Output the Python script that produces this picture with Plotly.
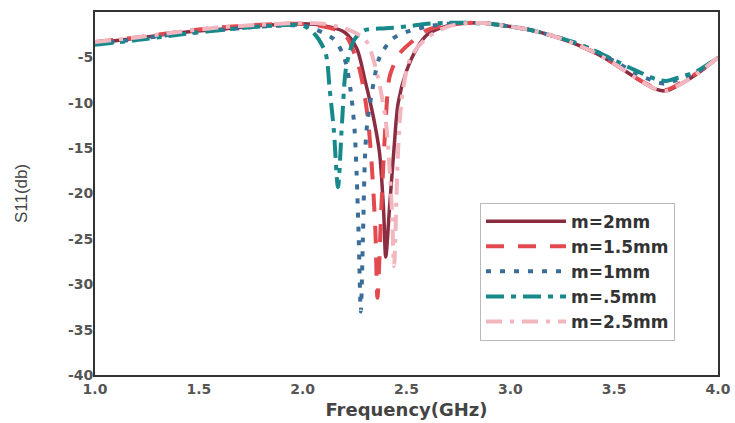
import plotly.graph_objects as go

# ---- data ----
f_2mm = [1.0, 1.2, 1.4, 1.6, 1.8, 2.0, 2.1, 2.2, 2.26, 2.3, 2.34, 2.37, 2.39, 2.40, 2.42, 2.44, 2.46, 2.5, 2.55, 2.6, 2.7, 2.8, 2.9, 3.0, 3.1, 3.2, 3.3, 3.4, 3.5, 3.6, 3.7, 3.75, 3.8, 3.9, 4.0]
s_2mm = [-3.4, -2.9, -2.3, -1.9, -1.5, -1.3, -1.5, -2.2, -4.0, -7.5, -11.5, -15.5, -22.0, -27.0, -21.0, -15.0, -10.0, -6.5, -4.0, -2.5, -1.5, -1.2, -1.3, -1.6, -2.0, -2.6, -3.4, -4.4, -5.7, -7.2, -8.5, -8.7, -8.2, -6.8, -5.0]

f_15mm = [1.0, 1.2, 1.4, 1.6, 1.8, 2.0, 2.1, 2.2, 2.27, 2.31, 2.33, 2.35, 2.36, 2.38, 2.40, 2.42, 2.47, 2.53, 2.6, 2.7, 2.8, 2.9, 3.0, 3.1, 3.2, 3.3, 3.4, 3.5, 3.6, 3.7, 3.75, 3.8, 3.9, 4.0]
s_15mm = [-3.3, -2.8, -2.2, -1.7, -1.4, -1.3, -1.6, -2.4, -6.0, -11.0, -16.0, -24.0, -31.5, -21.0, -12.0, -7.0, -4.5, -3.2, -2.0, -1.4, -1.2, -1.3, -1.6, -2.0, -2.6, -3.4, -4.4, -5.7, -7.2, -8.4, -8.6, -8.1, -6.7, -5.0]

f_1mm = [1.0, 1.2, 1.4, 1.6, 1.8, 2.0, 2.05, 2.15, 2.2, 2.23, 2.25, 2.26, 2.27, 2.28, 2.29, 2.30, 2.31, 2.34, 2.37, 2.43, 2.5, 2.6, 2.7, 2.8, 2.9, 3.0, 3.1, 3.2, 3.3, 3.4, 3.5, 3.6, 3.7, 3.75, 3.8, 3.9, 4.0]
s_1mm = [-3.5, -3.0, -2.4, -2.0, -1.6, -1.5, -1.8, -3.0, -5.0, -8.5, -13.0, -18.0, -25.0, -33.0, -25.0, -16.0, -12.5, -8.0, -5.0, -3.0, -2.2, -1.6, -1.3, -1.2, -1.3, -1.6, -2.0, -2.6, -3.3, -4.2, -5.4, -6.7, -7.7, -7.9, -7.5, -6.6, -5.0]

f_05mm = [1.0, 1.2, 1.4, 1.6, 1.8, 2.0, 2.06, 2.11, 2.13, 2.15, 2.17, 2.19, 2.21, 2.25, 2.3, 2.4, 2.5, 2.6, 2.7, 2.8, 2.9, 3.0, 3.1, 3.2, 3.3, 3.4, 3.5, 3.6, 3.7, 3.75, 3.8, 3.9, 4.0]
s_05mm = [-3.6, -3.1, -2.5, -2.0, -1.6, -1.5, -2.5, -4.5, -8.5, -13.0, -19.3, -12.0, -6.0, -3.0, -2.0, -1.8, -1.6, -1.3, -1.2, -1.2, -1.3, -1.6, -2.0, -2.6, -3.3, -4.2, -5.3, -6.4, -7.4, -7.6, -7.3, -6.5, -5.0]

f_25mm = [1.0, 1.2, 1.4, 1.6, 1.8, 2.0, 2.1, 2.2, 2.3, 2.35, 2.4, 2.43, 2.44, 2.46, 2.48, 2.52, 2.6, 2.7, 2.8, 2.9, 3.0, 3.1, 3.2, 3.3, 3.4, 3.5, 3.6, 3.7, 3.75, 3.8, 3.9, 4.0]
s_25mm = [-3.3, -2.8, -2.2, -1.7, -1.4, -1.2, -1.3, -1.8, -3.0, -6.0, -12.0, -22.0, -28.0, -15.0, -9.0, -5.0, -2.8, -1.6, -1.2, -1.3, -1.6, -2.0, -2.6, -3.4, -4.4, -5.7, -7.2, -8.5, -8.7, -8.2, -6.8, -5.0]

y_ticks = [-5, -10, -15, -20, -25, -30, -35, -40]
y_tick_labels = ["-5", "-10", "-15", "-20", "-25", "-30", "-35", "-40"]
x_ticks = [1.0, 1.5, 2.0, 2.5, 3.0, 3.5, 4.0]
x_tick_labels = ["1.0", "1.5", "2.0", "2.5", "3.0", "3.5", "4.0"]

series = [
    ("m=2mm", f_2mm, s_2mm, "#8B2D40", "solid", 3.5),
    ("m=1.5mm", f_15mm, s_15mm, "#E24A50", "18px,14px", 4),
    ("m=1mm", f_1mm, s_1mm, "#3A6E98", "5px,9px", 4),
    ("m=.5mm", f_05mm, s_05mm, "#17898B", "18px,7px,5px,7px", 4),
    ("m=2.5mm", f_25mm, s_25mm, "#F2B6BF", "16px,8px,4px,8px", 4),
]

BOLD = "DejaVu Sans, Arial, sans-serif"

fig = go.Figure()
for name, fx, sy, col, dash, w in series:
    fig.add_trace(go.Scatter(
        x=fx, y=sy, mode="lines", name=name,
        line=dict(color=col, width=w, dash=dash, shape="spline", smoothing=0.8),
    ))

fig.update_layout(
    width=735, height=423,
    margin=dict(l=95, r=17, t=12, b=48),
    paper_bgcolor="white", plot_bgcolor="white",
    font=dict(family="Liberation Sans, Arial, sans-serif", color="#444"),
    showlegend=True,
    legend=dict(
        x=0.618, y=0.475, xanchor="left", yanchor="top",
        bgcolor="white", bordercolor="#BBBBBB", borderwidth=1,
        font=dict(size=17, color="#333", family=BOLD, weight="bold"),
        itemwidth=80, tracegroupgap=0,
    ),
    xaxis=dict(
        range=[1.0, 4.0], tickvals=x_ticks, ticktext=x_tick_labels,
        showgrid=False, zeroline=False, automargin=False,
        showline=True, linecolor="#333", linewidth=2, mirror=True,
        ticks="", ticklabelstandoff=0,
        tickfont=dict(size=14, color="#555", family=BOLD, weight="bold"),
        title=dict(text="Frequency(GHz)", font=dict(size=18, color="#444", family=BOLD, weight="bold"), standoff=8),
    ),
    yaxis=dict(
        range=[-40, 0], tickvals=y_ticks, ticktext=y_tick_labels,
        showgrid=False, zeroline=False, automargin=False,
        showline=True, linecolor="#333", linewidth=2, mirror=True,
        ticks="", ticklabelstandoff=-3,
        tickfont=dict(size=14, color="#555", family=BOLD, weight="bold"),
        title=dict(text="S11(db)", font=dict(size=17, color="#444"), standoff=36),
    ),
)

fig.write_html("out.html", config={"displayModeBar": False},
               post_script="document.body.style.margin='0px';")
